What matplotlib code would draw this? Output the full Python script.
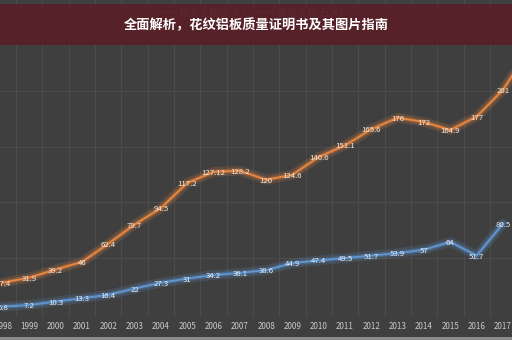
import matplotlib
matplotlib.use("Agg")
import matplotlib.pyplot as plt
from matplotlib.patches import Rectangle
import numpy as np

plt.rcParams['font.family'] = ['Noto Sans CJK SC', 'DejaVu Sans']

# data
years = list(range(1998, 2019))
applicants = [27.4, 31.9, 39.2, 46, 62.4, 79.7, 94.5, 117.2, 127.12, 128.2,
              120, 124.6, 140.6, 151.1, 165.6, 176, 172, 164.9, 177, 201, 238]
admitted = [5.8, 7.2, 10.3, 13.3, 16.4, 22, 27.3, 31, 34.2, 36.1,
            38.6, 44.9, 47.4, 49.5, 51.7, 53.9, 57, 64, 51.7, 80.5]
app_labels = ['27.4', '31.9', '39.2', '46', '62.4', '79.7', '94.5', '117.2', '127.12', '128.2',
              '120', '124.6', '140.6', '151.1', '165.6', '176', '172', '164.9', '177', '201', '']
adm_labels = ['5.8', '7.2', '10.3', '13.3', '16.4', '22', '27.3', '31', '34.2', '36.1',
              '38.6', '44.9', '47.4', '49.5', '51.7', '53.9', '57', '64', '51.7', '80.5']
series_names = ['报名人数(万人)', '录取人数(万人)']
title = '全面解析，花纹铝板质量证明书及其图片指南'

bg = '#3f3f3f'
orange = '#e8853f'
blue = '#5f95d0'

W, H = 512, 340
fig = plt.figure(figsize=(W / 100, H / 100), dpi=100, facecolor=bg)

# 1998 sits at x=3px, 2017 at x=503px; value 0 at 27px from bottom, 1.11 px per unit
px_year = 500 / 19
x0 = 1998 - 3 / px_year
x1 = x0 + W / px_year
px_val = 1.11
ax_bottom = 23
ax = fig.add_axes([0, ax_bottom / H, 1, (H - ax_bottom) / H])
ax.set_facecolor(bg)
ax.set_xlim(x0, x1)
ax.set_ylim(-(27 - ax_bottom) / px_val, (H - 27) / px_val)

for s in ax.spines.values():
    s.set_visible(False)

# faint grid
for b in np.arange(1997.5, 2019, 1):
    ax.axvline(b, color='#4b4b4b', lw=0.8, zorder=0)
for v in [50, 100, 150, 200, 250]:
    ax.axhline(v, color='#4b4b4b', lw=0.8, zorder=0)

ax.set_xticks(years[:-1])
ax.set_xticklabels([str(y) for y in years[:-1]])
ax.tick_params(axis='x', length=0, pad=3.5, labelsize=5.8, labelcolor='#c9c9c9')
ax.set_yticks([])

# glow + line
for xs, ys, c in [(years, applicants, orange), (years[:len(admitted)], admitted, blue)]:
    ax.plot(xs, ys, color=c, lw=7, alpha=0.18, solid_capstyle='round', zorder=2)
    ax.plot(xs, ys, color=c, lw=3.5, alpha=0.3, solid_capstyle='round', zorder=2)
    ax.plot(xs, ys, color=c, lw=1.4, zorder=3)

for x, y, t in zip(years, applicants, app_labels):
    ax.text(x, y - 1, t, ha='center', va='center', fontsize=5.6, color='#f2e9df', zorder=5)
for x, y, t in zip(years, admitted, adm_labels):
    ax.text(x, y - 1, t, ha='center', va='center', fontsize=5.6, color='#e8eef4', zorder=5)

# faint legend hidden behind the banner
fig.text(160 / W, 1 - 13 / H, '—— ' + series_names[0], ha='left', va='center',
         fontsize=7, color='#9a7070')
fig.text(258 / W, 1 - 13 / H, '—— ' + series_names[1], ha='left', va='center',
         fontsize=7, color='#8a7a90')

# top banner
fig.patches.append(Rectangle((0, 1 - 45 / H), 1, 41 / H, transform=fig.transFigure,
                             facecolor='#5a1d26', alpha=0.88, zorder=10))
fig.text(0.5, 1 - 25 / H, title, ha='center', va='center', fontsize=9.5,
         fontweight='bold', color='white', zorder=11)

# pale strip at the bottom edge
fig.patches.append(Rectangle((0, 0), 1, 3 / H, transform=fig.transFigure,
                             facecolor='#8c8c8c', zorder=10))

fig.savefig('out.png', dpi=100, facecolor=bg)
